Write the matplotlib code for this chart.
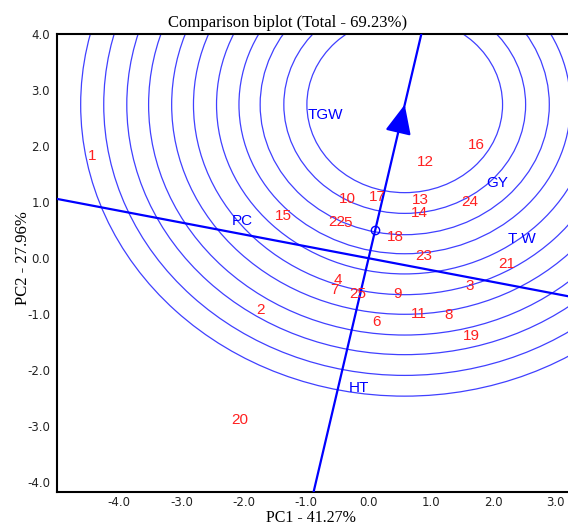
import matplotlib
matplotlib.use("Agg")
import matplotlib.pyplot as plt
from matplotlib.patches import Circle

# ---- data ----
genotypes = ["1", "2", "3", "4", "5", "6", "7", "8", "9", "10", "11", "12", "13",
             "14", "15", "16", "17", "18", "19", "20", "21", "22", "23", "24", "25"]
gen_x = [-4.43, -1.73, 1.62, -0.50, -0.34, 0.13, -0.54, 1.28, 0.46, -0.34, 0.80, 0.91, 0.83,
         0.82, -1.36, 1.73, 0.14, 0.43, 1.65, -2.06, 2.21, -0.51, 0.88, 1.62, -0.18]
gen_y = [1.82, -0.93, -0.50, -0.39, 0.63, -1.13, -0.57, -1.02, -0.63, 1.05, -1.00, 1.71, 1.03,
         0.81, 0.75, 2.02, 1.09, 0.38, -1.39, -2.88, -0.11, 0.64, 0.04, 1.00, -0.63]

traits = ["TGW", "GY", "T W", "PC", "HT"]
trait_x = [-0.69, 2.06, 2.46, -2.03, -0.16]
trait_y = [2.55, 1.34, 0.34, 0.66, -2.32]

ideal = (0.58, 2.74)          # ideal genotype (circle centre / arrow tip)
avg_env = (0.11, 0.50)        # average environment marker
radii = [1.57, 1.94, 2.32, 2.66, 3.02, 3.39, 3.74, 4.11, 4.46, 4.83, 5.20]

xticks = [-4.0, -3.0, -2.0, -1.0, 0.0, 1.0, 2.0, 3.0]
yticks = [-4.0, -3.0, -2.0, -1.0, 0.0, 1.0, 2.0, 3.0, 4.0]

title = "Comparison biplot (Total - 69.23%)"
xlabel = "PC1 - 41.27%"
ylabel = "PC2 - 27.96%"

# ---- figure ----
fig = plt.figure(figsize=(5.68, 5.25), dpi=100)
ax = fig.add_axes([57 / 568, 1 - 492 / 525, 511 / 568, 458 / 525])
ax.set_xlim(-5.0, 3.2)
ax.set_ylim(-4.17, 4.0)

blue = "#0000ff"
circ_col = "#4040ff"
red = "#ff2020"

for r in radii:
    ax.add_patch(Circle(ideal, r, fill=False, edgecolor=circ_col, lw=0.9, zorder=2))

# average environment axis and its perpendicular through the origin
ax.axline((0, 0), ideal, color=blue, lw=1.6, zorder=3)
ax.axline((0, 0), slope=-ideal[0] / ideal[1], color=blue, lw=1.6, zorder=3)

# arrow head at ideal genotype
tail = (ideal[0] * 0.85, ideal[1] * 0.85)
ax.annotate("", xy=ideal, xytext=tail,
            arrowprops=dict(arrowstyle="-|>,head_length=1.0,head_width=0.45",
                            color=blue, lw=1.6, mutation_scale=18, shrinkA=0, shrinkB=0),
            zorder=4)

ax.plot([avg_env[0]], [avg_env[1]], marker="o", ms=6, mfc="none", mec=blue, mew=1.0, zorder=4)

for g, x, y in zip(genotypes, gen_x, gen_y):
    ax.text(x, y, g, color=red, fontsize=11, family="Liberation Sans",
            ha="center", va="center", zorder=5)

for t, x, y in zip(traits, trait_x, trait_y):
    ax.text(x, y, t, color=blue, fontsize=11, family="Liberation Sans",
            ha="center", va="center", zorder=5)

ax.set_xticks(xticks)
ax.set_yticks(yticks)
ax.set_xticklabels([f"{v:.1f}" for v in xticks])
ax.set_yticklabels([f"{v:.1f}" for v in yticks])
ax.tick_params(length=0, labelsize=8.5, labelcolor="#222222")
ax.tick_params(axis="x", pad=3)
ax.tick_params(axis="y", pad=5)
for lab in ax.get_xticklabels() + ax.get_yticklabels():
    lab.set_family("DejaVu Sans")

for side in ["left", "top", "bottom"]:
    ax.spines[side].set_linewidth(1.5)
    ax.spines[side].set_color("black")
ax.spines["right"].set_visible(False)

fig.text(288 / 568, 1 - 23 / 525, title, ha="center", va="center",
         fontsize=12, family="Liberation Serif")
fig.text(311 / 568, 1 - 518 / 525, xlabel, ha="center", va="center",
         fontsize=11.5, family="Liberation Serif")
fig.text(23 / 568, 1 - 258 / 525, ylabel, ha="center", va="center", rotation=90,
         fontsize=12, family="Liberation Serif")

fig.savefig("out.png", dpi=100)
